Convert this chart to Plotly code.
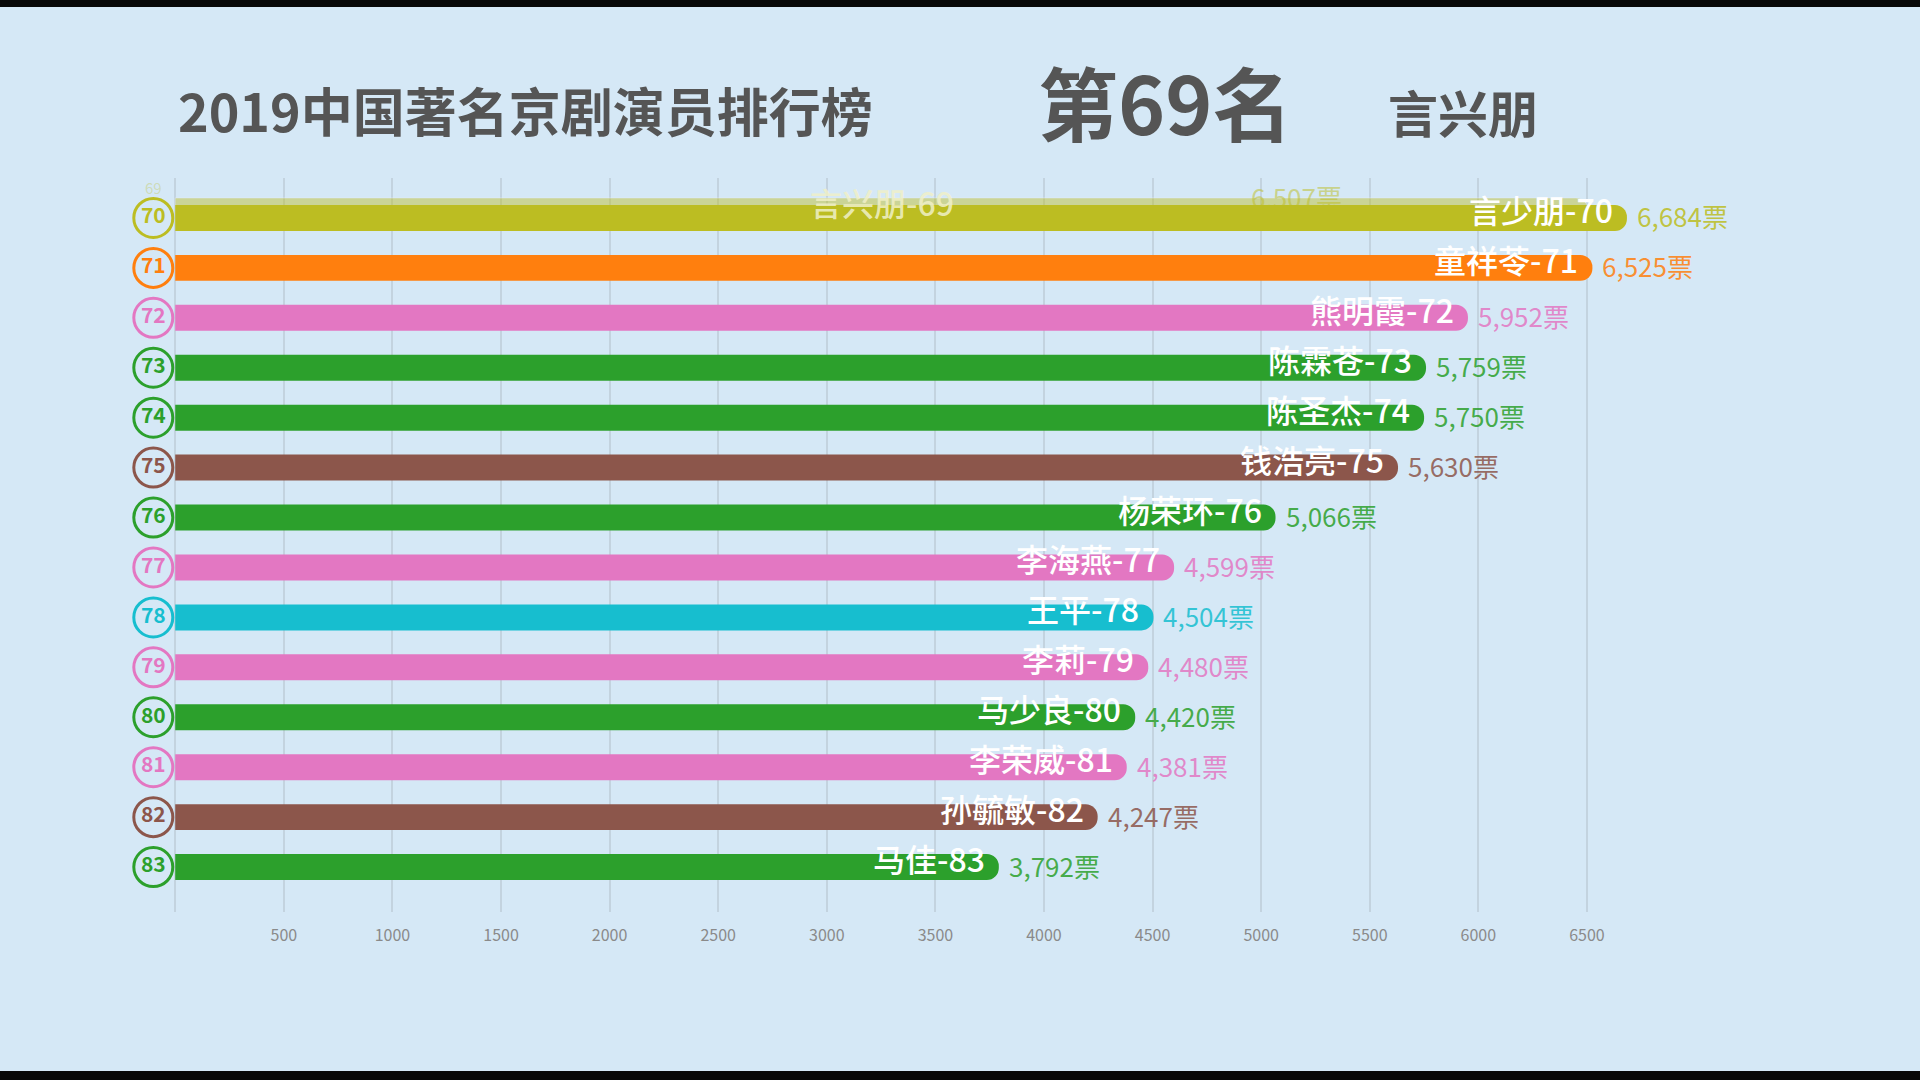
import plotly.graph_objects as go

# ---- data -------------------------------------------------------------
ranks = [70, 71, 72, 73, 74, 75, 76, 77, 78, 79, 80, 81, 82, 83]
names = ["言少朋", "童祥苓", "熊明霞", "陈霖苍", "陈圣杰", "钱浩亮", "杨荣环",
         "李海燕", "王平", "李莉", "马少良", "李荣威", "孙毓敏", "马佳"]
votes = [6684, 6525, 5952, 5759, 5750, 5630, 5066, 4599, 4504, 4480, 4420, 4381, 4247, 3792]
colors = ["#BCBD22", "#FF7F0E", "#E377C2", "#2CA02C", "#2CA02C", "#8C564B", "#2CA02C",
          "#E377C2", "#17BECF", "#E377C2", "#2CA02C", "#E377C2", "#8C564B", "#2CA02C"]

# entry sliding in (animation frame)
ghost_rank = 69
ghost_name = "言兴朋"
ghost_votes = 6507
ghost_pos = 69.85

tick_vals = [0, 500, 1000, 1500, 2000, 2500, 3000, 3500, 4000, 4500, 5000, 5500, 6000, 6500]
tick_text = ["", "500", "1000", "1500", "2000", "2500", "3000", "3500", "4000", "4500",
             "5000", "5500", "6000", "6500"]

title_main = "2019中国著名京剧演员排行榜"
title_rank = "第69名"
title_name = "言兴朋"

BG = "#D5E8F6"
FONT = "Noto Sans CJK SC"
CIRCLE_X = -101


def fade(hex_color, a):
    h = hex_color.lstrip("#")
    return "rgba(%d,%d,%d,%s)" % (int(h[0:2], 16), int(h[2:4], 16), int(h[4:6], 16), a)


fig = go.Figure()

# ghost bar (behind)
fig.add_trace(go.Bar(x=[ghost_votes], y=[ghost_pos], orientation="h", width=0.5,
                     marker=dict(color=fade("#BCBD22", 0.45), cornerradius="50%"),
                     hoverinfo="skip", showlegend=False))

fig.add_trace(go.Bar(x=votes, y=ranks, orientation="h", width=0.52,
                     marker=dict(color=colors, cornerradius="50%", line=dict(width=0)),
                     hoverinfo="skip", showlegend=False))

# rank circles
fig.add_trace(go.Scatter(x=[CIRCLE_X] * len(ranks), y=ranks, mode="markers+text",
                         marker=dict(size=39, color=BG, line=dict(color=colors, width=3)),
                         text=[str(r) for r in ranks],
                         textfont=dict(family=FONT, size=21, color=colors, weight="bold"),
                         textposition="middle center", cliponaxis=False,
                         hoverinfo="skip", showlegend=False))
fig.add_trace(go.Scatter(x=[CIRCLE_X], y=[ghost_pos - 0.4], mode="text",
                         text=[str(ghost_rank)],
                         textfont=dict(family=FONT, size=15, color=fade("#BCBD22", 0.3)),
                         cliponaxis=False, hoverinfo="skip", showlegend=False))

# labels
for r, n, v, c in zip(ranks, names, votes, colors):
    fig.add_annotation(x=v, y=r, text=f"{n}-{r}", showarrow=False, xanchor="right",
                       xshift=-12, yshift=9,
                       font=dict(family=FONT, size=32, color="white", weight=500))
    fig.add_annotation(x=v, y=r, text=f"{v:,}票", showarrow=False, xanchor="left",
                       xshift=8, yshift=2,
                       font=dict(family=FONT, size=26, color=fade(c, 0.85)))

# ghost labels mid-transition
fig.add_annotation(x=ghost_votes * 0.5, y=ghost_pos, text=f"{ghost_name}-{ghost_rank}",
                   showarrow=False, yshift=8,
                   font=dict(family=FONT, size=32, color="rgba(240,240,200,0.85)", weight=500))
fig.add_annotation(x=ghost_votes * 0.76, y=ghost_pos, text=f"{ghost_votes:,}票",
                   showarrow=False, xanchor="left", yshift=14,
                   font=dict(family=FONT, size=26, color=fade("#BCBD22", 0.5)))

# titles (paper coords: plot area spans y 178..912 px)
def py(pix):
    return (912 - pix) / 734.0

fig.add_annotation(xref="paper", yref="paper", x=(176 - 146.8) / 1592.3, y=py(110),
                   xanchor="left", yanchor="middle", showarrow=False, text=f"<b>{title_main}</b>",
                   font=dict(family=FONT, size=52, color="#555555"))
fig.add_annotation(xref="paper", yref="paper", x=(1036 - 146.8) / 1592.3, y=py(100),
                   xanchor="left", yanchor="middle", showarrow=False, text=f"<b>{title_rank}</b>",
                   font=dict(family=FONT, size=80, color="#555555"))
fig.add_annotation(xref="paper", yref="paper", x=(1386 - 146.8) / 1592.3, y=py(111),
                   xanchor="left", yanchor="middle", showarrow=False, text=f"<b>{title_name}</b>",
                   font=dict(family=FONT, size=50, color="#555555"))

# black video bands
fig.add_shape(type="rect", xref="paper", yref="paper", x0=-0.2, x1=1.2,
              y0=py(7), y1=py(-5), fillcolor="#080808", line=dict(width=0), layer="above")
fig.add_shape(type="rect", xref="paper", yref="paper", x0=-0.2, x1=1.2,
              y0=py(1085), y1=py(1071), fillcolor="#080808", line=dict(width=0), layer="above")

fig.update_layout(
    width=1920, height=1080,
    margin=dict(l=146.8, r=180.9, t=178, b=168),
    paper_bgcolor=BG, plot_bgcolor=BG,
    barmode="overlay",
    xaxis=dict(range=[-130, 7200], tickvals=tick_vals, ticktext=tick_text,
               showgrid=True, gridcolor="#C3D3DF", gridwidth=2, zeroline=False,
               showline=False, ticks="", ticklabelstandoff=12,
               tickfont=dict(family=FONT, size=16, color="#8A8A8A")),
    yaxis=dict(range=[83.9, 69.2], showgrid=False, zeroline=False,
               showticklabels=False, showline=False, ticks=""),
    font=dict(family=FONT),
)

fig.write_html("out.html", config={"displayModeBar": False},
               post_script="document.body.style.margin='0';document.body.style.overflow='hidden';")
